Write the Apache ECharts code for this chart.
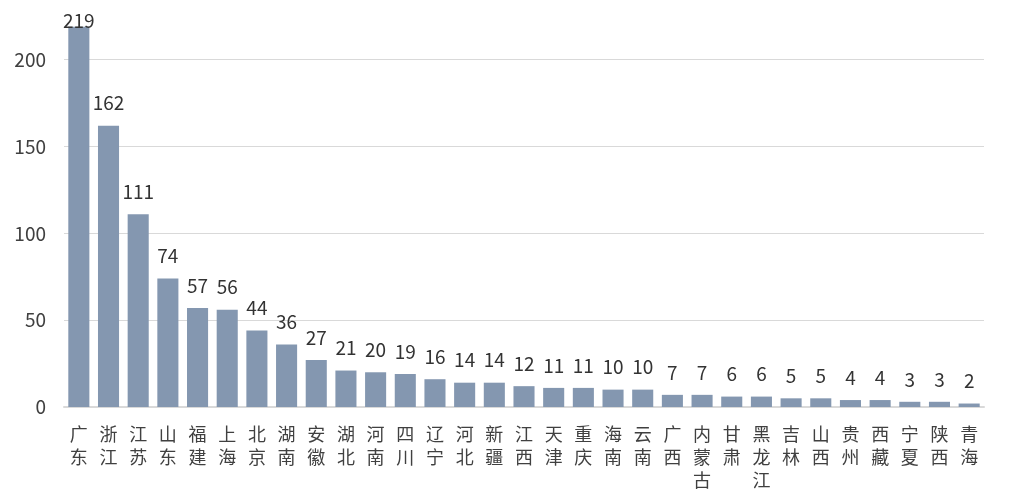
<!DOCTYPE html>
<html>
<head>
<meta charset="utf-8">
<script src="https://cdn.jsdelivr.net/npm/echarts@6/dist/echarts.min.js"></script>
<style>
  html, body { margin: 0; padding: 0; background: #fff; }
  #chart { width: 1035px; height: 504px; }
</style>
</head>
<body>
<div id="chart"></div>
<script>
const provinces = ["广东", "浙江", "江苏", "山东", "福建", "上海", "北京", "湖南", "安徽", "湖北",
    "河南", "四川", "辽宁", "河北", "新疆", "江西", "天津", "重庆", "海南", "云南",
    "广西", "内蒙古", "甘肃", "黑龙江", "吉林", "山西", "贵州", "西藏", "宁夏", "陕西", "青海"];
const counts = [219, 162, 111, 74, 57, 56, 44, 36, 27, 21,
    20, 19, 16, 14, 14, 12, 11, 11, 10, 10,
    7, 7, 6, 6, 5, 5, 4, 4, 3, 3, 2];
const yTicks = [0, 50, 100, 150, 200];

const fontFamily = "'Noto Sans CJK SC', 'Noto Sans', sans-serif";

let myChart = echarts.init(document.getElementById("chart"), null, { renderer: "canvas" });

//tallest bar's label is squeezed down onto the bar top, like in the source
let barData = counts.map((v, i) => (i === 0 ? { value: v, label: { distance: -4 } } : v));

let option = {
    animation: false,
    grid: { left: 64, right: 51, top: 25, bottom: 97, containLabel: false },
    xAxis: {
        type: "category",
        data: provinces,
        axisTick: { show: false },
        axisLine: { lineStyle: { color: "#d9d9d9", width: 2 } },
        axisLabel: {
            interval: 0,
            margin: 16,
            color: "#404040",
            fontSize: 18,
            lineHeight: 23,
            fontFamily: fontFamily,
            verticalAlign: "top",
            formatter: (v) => v.split("").join("\n")
        }
    },
    yAxis: {
        type: "value",
        min: 0,
        max: 220,
        interval: 50,
        axisLine: { show: false },
        axisTick: { show: false },
        splitLine: { showMaxLine: false, lineStyle: { color: "#d9d9d9", width: 1 } },
        axisLabel: {
            margin: 18,
            color: "#404040",
            fontSize: 19,
            fontFamily: fontFamily,
            formatter: (v) => (yTicks.includes(v) ? String(v) : "")
        }
    },
    series: [{
        type: "bar",
        data: barData,
        barCategoryGap: "29%",
        itemStyle: { color: "#8497b0" },
        label: {
            show: true,
            position: "top",
            distance: 13,
            color: "#333333",
            fontSize: 19,
            fontFamily: fontFamily
        }
    }]
};

myChart.setOption(option);
</script>
</body>
</html>
